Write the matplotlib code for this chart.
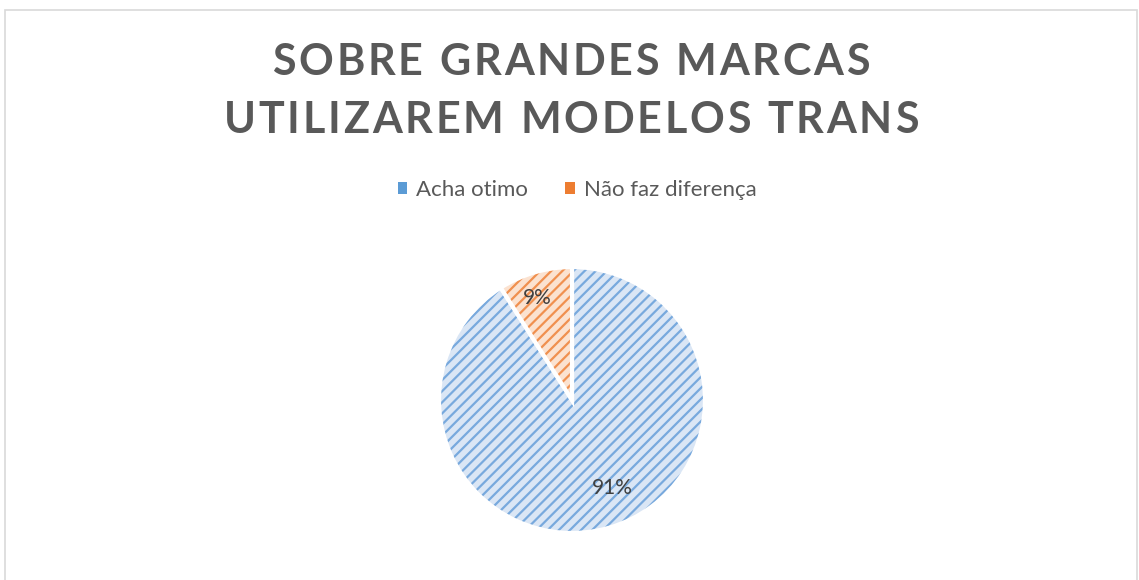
import matplotlib
matplotlib.use("Agg")
import matplotlib.pyplot as plt
from matplotlib.patches import Rectangle

title_lines = ["SOBRE GRANDES MARCAS", "UTILIZAREM MODELOS TRANS"]
categories = ["Acha otimo", "Não faz diferença"]
values = [91, 9]
labels = ["91%", "9%"]

face_colors = ["#dae6f5", "#fbe2d0"]
hatch_colors = ["#78a9dd", "#f0904f"]
legend_colors = ["#5b9bd5", "#ed7d31"]
text_color = "#595959"

W, H = 1139, 580
plt.rcParams["font.family"] = ["Lato", "DejaVu Sans"]
plt.rcParams["hatch.linewidth"] = 1.6
fig = plt.figure(figsize=(W / 100, H / 100), dpi=100)

# moldura do gráfico
fig.patches.append(Rectangle((5 / W, -0.01), 1132 / W, 1 - 10 / H + 0.01,
                             transform=fig.transFigure, fill=False,
                             edgecolor="#d9d9d9", linewidth=1.2))

# título com espaçamento entre letras
renderer = fig.canvas.get_renderer()


def spaced_text(s, ycenter, size, gap):
    widths = []
    for ch in s:
        t = fig.text(0, 0, ch, fontsize=size, fontweight="bold")
        bb = t.get_window_extent(renderer)
        widths.append(bb.width if ch != " " else size * 0.35)
        t.remove()
    total = sum(widths) + gap * (len(s) - 1)
    x = 571 - total / 2
    for ch, w in zip(s, widths):
        fig.text(x / W, 1 - ycenter / H, ch, fontsize=size, fontweight="bold",
                 color=text_color, ha="left", va="center")
        x += w + gap


spaced_text(title_lines[0], 62, 31, 2.8)
spaced_text(title_lines[1], 120, 31, 2.8)

# pizza
cx, cy, r = 572, 400, 133
ax = fig.add_axes([(cx - r) / W, 1 - (cy + r) / H, 2 * r / W, 2 * r / H])
wedges, _ = ax.pie(values, startangle=90, counterclock=False,
                   colors=face_colors,
                   wedgeprops=dict(edgecolor="white", linewidth=3))
for w, hc in zip(wedges, hatch_colors):
    w.set_hatch("///")
    try:
        w.set_hatchcolor(hc)
    except AttributeError:
        w._hatch_color = matplotlib.colors.to_rgba(hc)
ax.set_xlim(-1, 1)
ax.set_ylim(-1, 1)
ax.set_aspect("equal")
ax.axis("off")

ax.text(0.30, -0.66, labels[0], fontsize=15, color="#404040",
        ha="center", va="center")
ax.text(-0.26, 0.77, labels[1], fontsize=15, color="#404040",
        ha="center", va="center")

# legenda
handles = [Rectangle((0, 0), 1, 1, facecolor=c, edgecolor="none")
           for c in legend_colors]
leg = fig.legend(handles, categories, loc="center", ncol=2,
                 bbox_to_anchor=(577 / W, 1 - 190 / H), frameon=False,
                 fontsize=16, handlelength=0.42, handleheight=0.42,
                 handletextpad=0.4, columnspacing=1.7)
for t in leg.get_texts():
    t.set_color(text_color)

fig.savefig("out.png", dpi=100)
